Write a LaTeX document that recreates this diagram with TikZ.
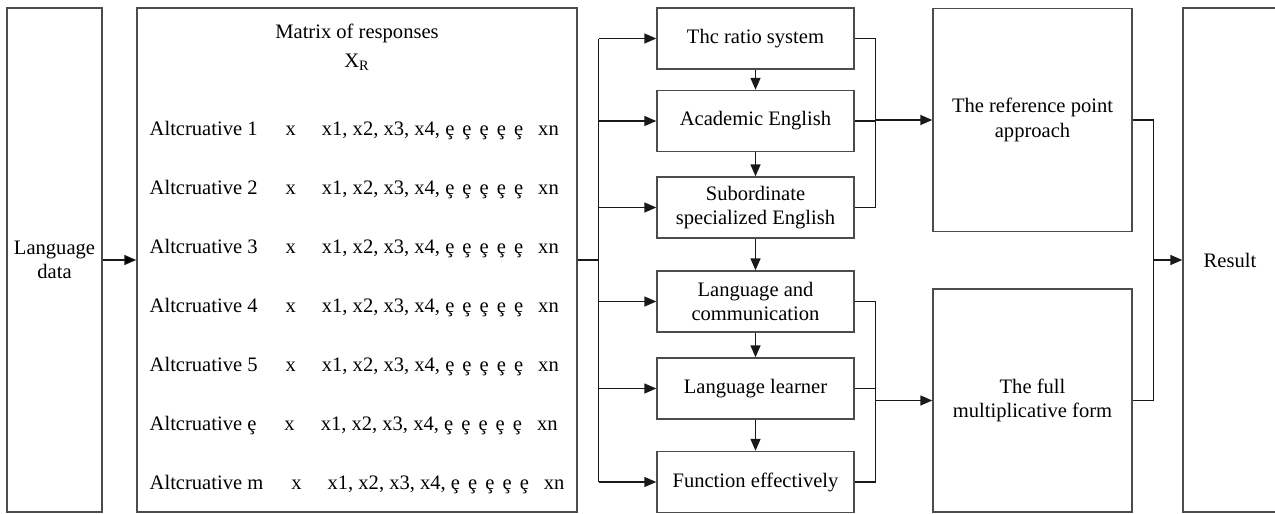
\documentclass[tikz,border=0pt]{standalone}
\usepackage{fontspec}
\setmainfont{Liberation Serif}
\usetikzlibrary{arrows.meta,positioning}

\newcommand{\erow}{ȩ\hspace{4.6pt}ȩ\hspace{4.6pt}ȩ\hspace{4.6pt}ȩ\hspace{4.6pt}ȩ}

\begin{document}
\begin{tikzpicture}[x=0.2mm,y=-0.2mm,>={Triangle[length=2.4mm,width=2mm]},
  line width=0.8pt,
  every node/.style={font=\fontsize{11.7}{14}\selectfont},
  box node/.style={rectangle,draw=black!70,align=center,inner sep=0pt},
  mid node/.style={box node,minimum width=3.94cm,minimum height=1.22cm},
  big node/.style={box node,minimum width=3.98cm,minimum height=4.46cm},
  row node/.style={anchor=base west,inner sep=0pt},
  link/.style={draw=black!90}]

  \clip (0,0) rectangle (1275,513);

  % input and matrix
  \node[box node,minimum width=1.9cm,minimum height=10.08cm] (lang) at (54.5,260) {Language\\data};
  \node[box node,minimum width=8.8cm,minimum height=10.08cm] (mat) at (357,260) {};
  \node (title) at (357,33) {Matrix of responses};
  \node (xr) at (357,62) {X\textsubscript{R}};
  \foreach \lbl [count=\i from 0] in {1,2,3,4,5,ȩ,m}
    \node[row node] (row\i) at (149,135+59*\i)
      {Altcruative \lbl\hspace{0.56cm}x\hspace{0.52cm}x1, x2, x3, x4, \erow\hspace{0.3cm}xn};

  % middle column
  \node[mid node] (ratio) at (755.5,38.5) {Thc ratio system};
  \node[mid node] (acad) at (755.5,121) {Academic English};
  \node[mid node] (subord) at (755.5,207.5) {Subordinate\\specialized English};
  \node[mid node] (langcom) at (755.5,301.5) {Language and\\communication};
  \node[mid node] (learner) at (755.5,388.5) {Language learner};
  \node[mid node] (funct) at (755.5,482) {Function effectively};

  % methods and result
  \node[big node] (refpt) at (1032.5,120) {The reference point\\approach};
  \node[big node] (fullform) at (1032.5,400.5) {The full\\multiplicative form};
  \node[box node,minimum width=1.88cm,minimum height=10.08cm] (result) at (1230,260) {Result};

  \path[link,->] (lang) edge (mat);

  \draw[link] (mat.east) -- ++(21,0) coordinate (split);
  \draw[link] (split |- ratio) -- (split |- funct);
  \foreach \b in {ratio,acad,subord,langcom,learner,funct}
    \draw[link,->] (split |- \b) -- (\b.west);
  \foreach \a/\b in {ratio/acad,acad/subord,subord/langcom,langcom/learner,learner/funct}
    \draw[link,->] (\a) -- (\b);

  \draw[link] (ratio.east) -- ++(21,0) coordinate (busa) |- (subord.east);
  \draw[link] (acad.east) -- (busa |- acad);
  \draw[link,->] (busa |- refpt) -- (refpt.west);

  \draw[link] (langcom.east) -- ++(21,0) coordinate (busb) |- (funct.east);
  \draw[link] (learner.east) -- (busb |- learner);
  \draw[link,->] (busb |- fullform) -- (fullform.west);

  \draw[link] (refpt.east) -- ++(21,0) coordinate (busc) |- (fullform.east);
  \draw[link,->] (busc |- result) -- (result.west);

\end{tikzpicture}
\end{document}
